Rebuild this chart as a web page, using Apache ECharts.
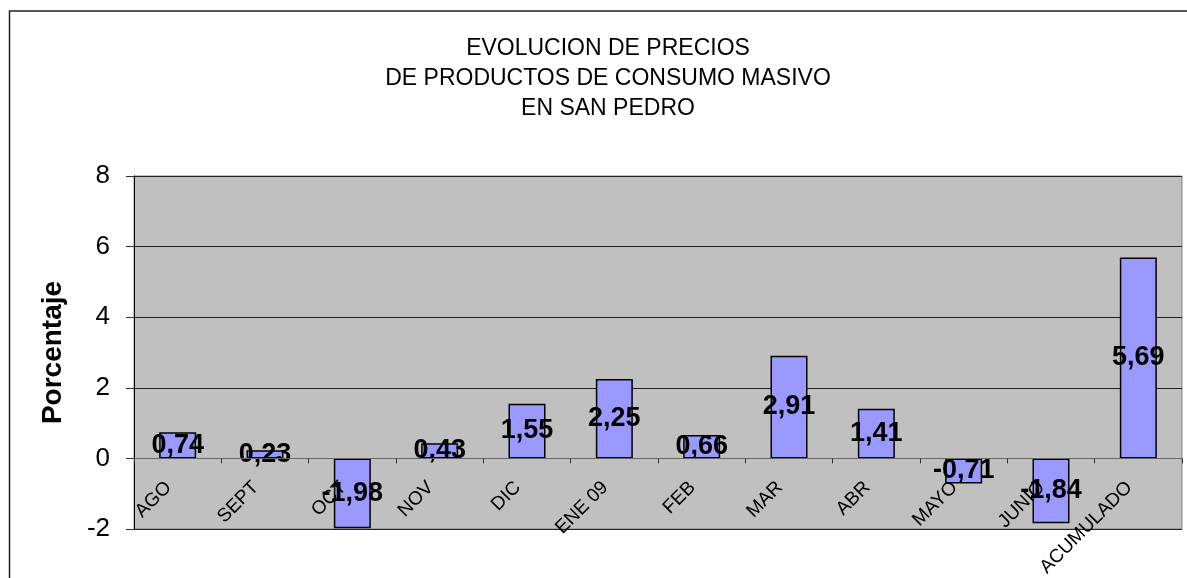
<!DOCTYPE html>
<html>
<head>
<meta charset="utf-8">
<script src="https://cdn.jsdelivr.net/npm/echarts@6/dist/echarts.min.js"></script>
<style>
html,body{margin:0;padding:0;background:#fff;}
#chart{width:1187px;height:578px;}
</style>
</head>
<body>
<div id="chart"></div>
<script>
const titleLines = ['EVOLUCION DE PRECIOS', 'DE PRODUCTOS DE CONSUMO MASIVO', 'EN SAN PEDRO'];
const categories = ['AGO', 'SEPT', 'OCT', 'NOV', 'DIC', 'ENE 09', 'FEB', 'MAR', 'ABR', 'MAYO', 'JUNIO', 'ACUMULADO'];
const values = [0.74, 0.23, -1.98, 0.43, 1.55, 2.25, 0.66, 2.91, 1.41, -0.71, -1.84, 5.69];
const yAxisName = 'Porcentaje';

const FONT = '"Liberation Sans", Arial, sans-serif';
const GRID_TOP = 176, GRID_BOTTOM = 49;
const Y_MIN = -2, Y_MAX = 8;
const plotH = 578 - GRID_TOP - GRID_BOTTOM;
const zeroOffset = -plotH * (0 - Y_MIN) / (Y_MAX - Y_MIN);

const chart = echarts.init(document.getElementById('chart'));
chart.setOption({
  animation: false,
  backgroundColor: '#ffffff',
  title: {
    text: titleLines.join('\n'),
    left: 603,
    textAlign: 'center',
    top: 29,
    textStyle: { fontFamily: FONT, fontSize: 23, fontWeight: 'normal', color: '#000', lineHeight: 30 }
  },
  graphic: [{
    type: 'rect',
    shape: { x: 9.5, y: 11, width: 1300, height: 700 },
    style: { fill: 'none', stroke: '#222', lineWidth: 1.5 },
    silent: true
  }],
  grid: {
    left: 134, top: GRID_TOP, right: 5, bottom: GRID_BOTTOM,
    containLabel: false,
    outerBoundsMode: 'none',
    show: true, backgroundColor: '#C0C0C0', borderColor: '#808080', borderWidth: 1
  },
  xAxis: {
    type: 'category',
    data: categories,
    offset: zeroOffset,
    axisLine: { onZero: false, lineStyle: { color: '#666', width: 1 } },
    axisTick: { show: true, length: 5, lineStyle: { color: '#333' } },
    axisLabel: { interval: 0, rotate: 45, margin: 17, padding: [0, 13, 0, 0], fontFamily: FONT, fontSize: 19, color: '#000' },
    splitLine: { show: false },
    z: 5
  },
  yAxis: {
    type: 'value',
    min: Y_MIN, max: Y_MAX, interval: 2,
    name: yAxisName,
    nameLocation: 'middle',
    nameRotate: 90,
    nameGap: 67,
    nameTextStyle: { fontFamily: FONT, fontSize: 28, fontWeight: 'bold', color: '#000' },
    axisLine: { show: true, lineStyle: { color: '#000' } },
    axisTick: { show: true, length: 8, lineStyle: { color: '#333' } },
    axisLabel: { margin: 24, fontFamily: FONT, fontSize: 26, color: '#000' },
    splitLine: { show: true, lineStyle: { color: '#222', width: 1 } }
  },
  series: [{
    type: 'bar',
    data: values,
    barWidth: 37,
    itemStyle: { color: '#9999FF', borderColor: '#000', borderWidth: 1.5 },
    label: {
      show: true,
      position: 'inside',
      fontFamily: FONT,
      fontSize: 27,
      fontWeight: 'bold',
      color: '#000',
      formatter: p => p.value.toFixed(2).replace('.', ',')
    },
    z: 3
  }]
});
</script>
</body>
</html>
